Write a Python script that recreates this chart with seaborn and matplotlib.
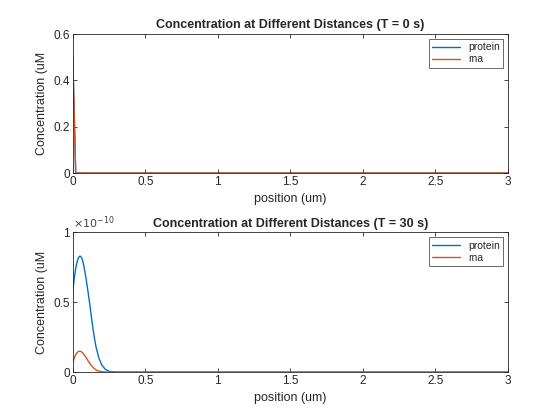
import matplotlib
matplotlib.use("Agg")
import matplotlib.pyplot as plt
import seaborn as sns
import pandas as pd

sns.set_theme(style="white")
plt.rcParams["font.family"] = ["Liberation Sans", "DejaVu Sans"]

# T = 0 s
x0 = [0.0, 0.02, 3.0]
protein0 = [0.5, 0.0, 0.0]
rna0 = [0.5, 0.0, 0.0]

# T = 30 s (values x 1e-10)
x30 = [0.0, 0.01, 0.02, 0.03, 0.04, 0.05, 0.06, 0.07, 0.085, 0.1, 0.115, 0.13,
       0.145, 0.16, 0.18, 0.2, 0.225, 0.25, 0.3, 3.0]
protein30 = [0.58, 0.67, 0.74, 0.79, 0.82, 0.83, 0.82, 0.79, 0.71, 0.61, 0.50, 0.38,
             0.27, 0.18, 0.10, 0.05, 0.02, 0.005, 0.0, 0.0]
rna30 = [0.07, 0.10, 0.125, 0.14, 0.148, 0.15, 0.145, 0.135, 0.115, 0.09, 0.065, 0.045,
         0.028, 0.016, 0.007, 0.003, 0.001, 0.0, 0.0, 0.0]

BLUE = "#0072BD"
ORANGE = "#D95319"

fig = plt.figure(figsize=(5.6, 4.2), dpi=100)
ax1 = fig.add_axes([0.13, 0.588, 0.777, 0.331])
ax2 = fig.add_axes([0.13, 0.114, 0.777, 0.333])

def draw(ax, x, p, r, title, ylim, yticks):
    df = pd.DataFrame({"x": x + x, "y": p + r,
                       "s": ["protein"] * len(x) + ["rna"] * len(x)})
    sns.lineplot(data=df, x="x", y="y", hue="s", palette=[BLUE, ORANGE],
                 linewidth=1, ax=ax)
    ax.set_xlim(0, 3)
    ax.set_ylim(*ylim)
    ax.set_yticks(yticks)
    ax.set_xticks([0, 0.5, 1, 1.5, 2, 2.5, 3])
    ax.set_xticklabels(["0", "0.5", "1", "1.5", "2", "2.5", "3"])
    ax.set_title(title, fontsize=9, fontweight="bold", pad=4)
    ax.set_xlabel("position (um)", fontsize=9)
    ax.set_ylabel("Concentration (uM", fontsize=9)
    ax.tick_params(labelsize=8.5, direction="in", length=3, width=0.6, colors="#262626",
                   left=True, bottom=True, top=True, right=True, pad=2)
    for s in ax.spines.values():
        s.set_color("#262626")
        s.set_linewidth(0.6)
    leg = ax.legend(loc="upper right", fontsize=7.5, frameon=True, fancybox=False,
                    edgecolor="#262626", handlelength=2.6, borderpad=0.3, labelspacing=0.2)
    leg.get_frame().set_linewidth(0.6)
    leg.set_title(None)

draw(ax1, x0, protein0, rna0, "Concentration at Different Distances (T = 0 s)",
     (0, 0.6), [0, 0.2, 0.4, 0.6])
ax1.set_yticklabels(["0", "0.2", "0.4", "0.6"])
draw(ax2, x30, protein30, rna30, "Concentration at Different Distances (T = 30 s)",
     (0, 1), [0, 0.5, 1])
ax2.set_yticklabels(["0", "0.5", "1"])
ax2.text(0.0, 1.01, r"$\times10^{-10}$", transform=ax2.transAxes, fontsize=8,
         va="bottom", ha="left", color="#404040")

fig.savefig("out.png", dpi=100, facecolor="white")
